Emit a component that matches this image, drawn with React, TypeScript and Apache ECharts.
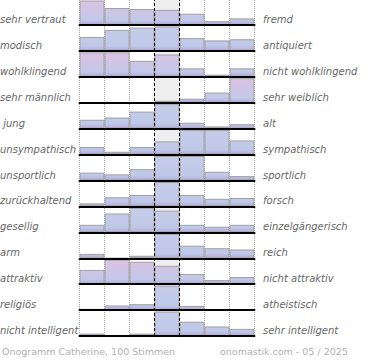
import React, { useEffect, useRef } from "react";
import * as echarts from "echarts";

// Scale positions 1..7 (left pole -> right pole)
const scalePoints = ["1", "2", "3", "4", "5", "6", "7"];

const leftLabels = [
  "sehr vertraut", "modisch", "wohlklingend", "sehr männlich", " jung",
  "unsympathisch", "unsportlich", "zurückhaltend", "gesellig", "arm",
  "attraktiv", "religiös", "nicht intelligent",
];
const rightLabels = [
  "fremd", "antiquiert", "nicht wohlklingend", "sehr weiblich", "alt",
  "sympathisch", "sportlich", "forsch", "einzelgängerisch", "reich",
  "nicht attraktiv", "atheistisch", "sehr intelligent",
];

// vote shares (%) per scale point
const vertrautFremd = [26, 18, 17, 16, 12, 4, 7];
const modischAntiquiert = [12, 18, 20, 21, 11, 9, 10];
const wohlklingend = [23, 23, 15, 21, 8, 2, 8];
const maennlichWeiblich = [0, 0, 0, 5, 10, 25, 60];
const jungAlt = [12, 15, 23, 33, 8, 3, 6];
const sympathisch = [8, 3, 8, 14, 26, 26, 15];
const sportlich = [9, 7, 13, 28, 28, 10, 5];
const zurueckhaltendForsch = [4, 12, 15, 32, 15, 10, 11];
const geselligEinzelgaenger = [8, 20, 26, 23, 8, 6, 8];
const armReich = [7, 0, 4, 39, 20, 16, 14];
const attraktiv = [14, 24, 22, 18, 10, 4, 7];
const religioesAtheistisch = [3, 11, 14, 58, 10, 2, 1];
const intelligent = [4, 0, 4, 41, 24, 16, 12];

const rows = [
  vertrautFremd, modischAntiquiert, wohlklingend, maennlichWeiblich, jungAlt,
  sympathisch, sportlich, zurueckhaltendForsch, geselligEinzelgaenger, armReich,
  attraktiv, religioesAtheistisch, intelligent,
];

const footerLeft = "Onogramm Catherine, 100 Stimmen";
const footerRight = "onomastik.com - 05 / 2025";

// style: rows drawn with the pink-topped gradient
const pinkRows = [0, 2, 3, 10];

const GRID_LEFT = 79.5;
const GRID_W = 175;
const ROW_PITCH = 25.92;
const ROW_H = 24.5;
const FIRST_TOP = 0.5;
const FONT = "DejaVu Sans";

export default function App() {
  const ref = useRef<HTMLDivElement>(null);

  useEffect(() => {
    if (!ref.current) return;
    const chart = echarts.init(ref.current, undefined, { renderer: "svg" });

    const lastBottom = FIRST_TOP + (rows.length - 1) * ROW_PITCH + ROW_H;

    const grids: any[] = [
      { left: GRID_LEFT, top: 0, width: GRID_W, height: lastBottom, containLabel: false },
    ];
    const xAxes: any[] = [
      {
        gridIndex: 0, type: "value", min: 0, max: 7, interval: 1,
        axisLine: { show: false }, axisTick: { show: false }, axisLabel: { show: false },
        splitLine: { show: true, lineStyle: { color: "#a8a8a8", width: 1, type: [1, 1] } },
      },
    ];
    const yAxes: any[] = [
      { gridIndex: 0, type: "value", min: 0, max: 1, show: false },
    ];
    const series: any[] = [
      {
        type: "line", xAxisIndex: 0, yAxisIndex: 0, data: [], z: 1, silent: true,
        markArea: {
          silent: true,
          itemStyle: { color: "#eeeeee" },
          data: [[{ xAxis: 3 }, { xAxis: 4 }]],
        },
      },
      {
        type: "line", xAxisIndex: 0, yAxisIndex: 0, data: [], z: 10, silent: true,
        markLine: {
          silent: true, symbol: ["none", "none"], label: { show: false },
          lineStyle: { color: "#000", width: 1, type: [3, 2] },
          data: [{ xAxis: 3 }, { xAxis: 4 }],
        },
      },
    ];
    const graphics: any[] = [];

    rows.forEach((vals, i) => {
      const top = FIRST_TOP + i * ROW_PITCH;
      const bottom = top + ROW_H;
      const gi = i + 1;
      grids.push({ left: GRID_LEFT, top, width: GRID_W, height: ROW_H, containLabel: false });
      xAxes.push({
        gridIndex: gi, type: "category", data: scalePoints, z: 4,
        axisLine: { show: true, lineStyle: { color: "#000", width: 2 } },
        axisTick: { show: false }, axisLabel: { show: false }, splitLine: { show: false },
      });
      yAxes.push({ gridIndex: gi, type: "value", min: 0, max: "dataMax", show: false });
      const pink = pinkRows.includes(i);
      const stops = pink
        ? [
            { offset: 0, color: "#ddc2e3" },
            { offset: 0.45, color: "#cdc5e6" },
            { offset: 0.8, color: "#c2c9e8" },
            { offset: 0.92, color: "#b8b6e0" },
            { offset: 1, color: "#a99dd2" },
          ]
        : [
            { offset: 0, color: "#c5cdea" },
            { offset: 0.8, color: "#c0c8e8" },
            { offset: 0.92, color: "#b8b6e0" },
            { offset: 1, color: "#a99dd2" },
          ];
      series.push({
        type: "bar", xAxisIndex: gi, yAxisIndex: gi, data: vals, barWidth: "100%", z: 2,
        silent: true,
        itemStyle: {
          color: { type: "linear", x: 0, y: top, x2: 0, y2: bottom, global: true, colorStops: stops },
          borderColor: "#a0a0a0", borderWidth: 1,
        },
      });
      const ly = bottom - 5.5;
      graphics.push({
        type: "text", left: 0, top: ly - 5, silent: true,
        style: { text: leftLabels[i], fill: "#666", font: `italic 10px '${FONT}'` },
      });
      graphics.push({
        type: "text", left: 263, top: ly - 5, silent: true,
        style: { text: rightLabels[i], fill: "#666", font: `italic 10px '${FONT}'` },
      });
    });

    graphics.push({
      type: "text", left: 2, top: 346, silent: true,
      style: { text: footerLeft, fill: "#b0b0b0", font: `9.5px '${FONT}'` },
    });
    graphics.push({
      type: "text", left: 220, top: 346, silent: true,
      style: { text: footerRight, fill: "#b0b0b0", font: `9.5px '${FONT}'` },
    });

    chart.setOption({
      animation: false,
      backgroundColor: "#fff",
      grid: grids,
      xAxis: xAxes,
      yAxis: yAxes,
      series,
      graphic: graphics,
    });

    return () => chart.dispose();
  }, []);

  return (
    <div
      ref={ref}
      style={{ position: "fixed", left: 0, top: 0, width: 370, height: 360 }}
    />
  );
}
